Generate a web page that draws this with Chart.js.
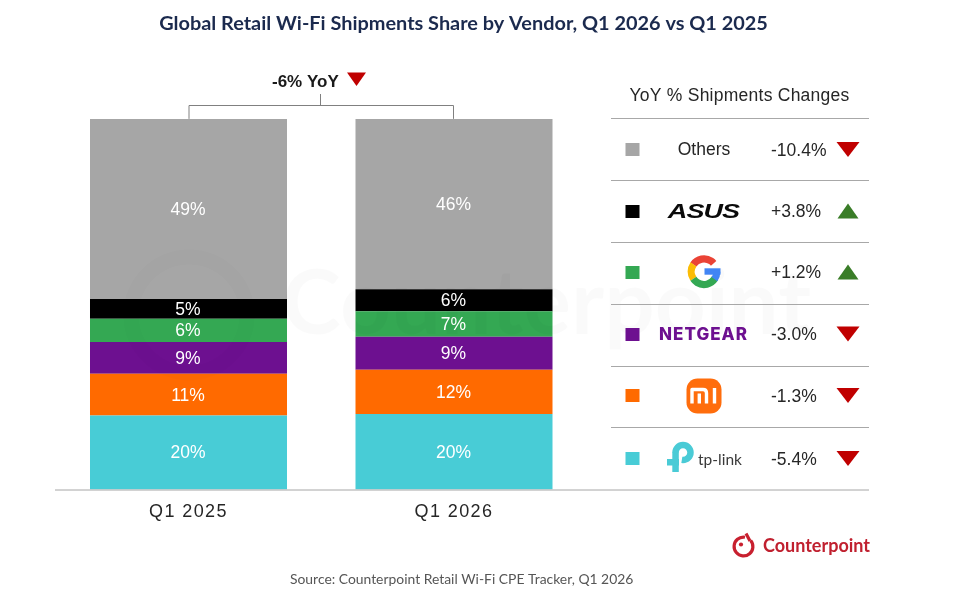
<!DOCTYPE html>
<html>
<head>
<meta charset="utf-8">
<style>html,body{margin:0;padding:0;background:#fff}canvas{display:block}</style>
<script src="https://cdn.jsdelivr.net/npm/chart.js@4"></script>
</head>
<body>
<canvas id="c" width="978" height="601"></canvas>
<script>
const categories = ["Q1 2025", "Q1 2026"];
const vendors = ["tp-link", "Mi", "NETGEAR", "Google", "ASUS", "Others"];
const tplinkValues = [20.0, 20.4];
const miValues = [11.2, 11.9];
const netgearValues = [8.6, 8.9];
const googleValues = [6.3, 6.9];
const asusValues = [5.3, 5.9];
const othersValues = [48.6, 46.0];
const tplinkLabels = ["20%", "20%"];
const miLabels = ["11%", "12%"];
const netgearLabels = ["9%", "9%"];
const googleLabels = ["6%", "7%"];
const asusLabels = ["5%", "6%"];
const othersLabels = ["49%", "46%"];
const vendorColors = ["#48ccd6", "#ff6a00", "#6d1090", "#34a853", "#000000", "#a6a6a6"];
const yoyChanges = ["-5.4%", "-1.3%", "-3.0%", "+1.2%", "+3.8%", "-10.4%"];
const titleText = "Global Retail Wi-Fi Shipments Share by Vendor, Q1 2026 vs Q1 2025";
const tableTitle = "YoY % Shipments Changes";
const totalChange = "-6% YoY";
const sourceText = "Source: Counterpoint Retail Wi-Fi CPE Tracker, Q1 2026";
const brandText = "Counterpoint";

const SANS = '"Liberation Sans", Arial, sans-serif';
const RED = "#c00000", GREEN = "#3a7d28", RULE = "#a8a8a8";

const valueSets = [tplinkValues, miValues, netgearValues, googleValues, asusValues, othersValues];
const labelSets = [tplinkLabels, miLabels, netgearLabels, googleLabels, asusLabels, othersLabels];
const datasets = vendors.map((v, i) => ({
  label: v, data: valueSets[i], backgroundColor: vendorColors[i], borderWidth: 0,
  barPercentage: 0.742, categoryPercentage: 1, shownLabels: labelSets[i]
}));

function text(ctx, s, x, y, font, color, align, spacing) {
  ctx.save();
  ctx.font = font; ctx.fillStyle = color;
  ctx.textAlign = align || "left"; ctx.textBaseline = "middle";
  if (spacing) ctx.letterSpacing = spacing;
  ctx.fillText(s, x, y);
  ctx.restore();
}
function tri(ctx, cx, top, bottom, w, color, up) {
  ctx.fillStyle = color;
  ctx.beginPath();
  if (up) { ctx.moveTo(cx, top); ctx.lineTo(cx + w/2, bottom); ctx.lineTo(cx - w/2, bottom); }
  else { ctx.moveTo(cx - w/2, top); ctx.lineTo(cx + w/2, top); ctx.lineTo(cx, bottom); }
  ctx.closePath(); ctx.fill();
}
function hline(ctx, x1, x2, y, color, w) {
  ctx.strokeStyle = color; ctx.lineWidth = w || 1;
  ctx.beginPath(); ctx.moveTo(x1, y); ctx.lineTo(x2, y); ctx.stroke();
}
function drawGoogle(ctx, cx, cy) {
  const r = 12.8, lw = 7.2;
  ctx.save(); ctx.lineWidth = lw; ctx.lineCap = "butt";
  const seg = (a, b, col) => { ctx.strokeStyle = col; ctx.beginPath(); ctx.arc(cx, cy, r, a, b); ctx.stroke(); };
  seg(-2.55, -0.72, "#ea4335");
  seg(2.55, 3.75, "#fbbc05");
  seg(0.55, 2.55, "#34a853");
  seg(0, 0.62, "#4285f4");
  ctx.fillStyle = "#4285f4";
  ctx.fillRect(cx + 0.5, cy - 3.4, 16, 6.4);
  ctx.restore();
}
function drawMi(ctx, cx, cy) {
  ctx.save();
  ctx.fillStyle = "#ff6d0c";
  ctx.beginPath(); ctx.roundRect(cx - 17.5, cy - 17.5, 35, 35, 11); ctx.fill();
  ctx.strokeStyle = "#fff"; ctx.lineWidth = 3.4; ctx.lineCap = "butt"; ctx.lineJoin = "round";
  const l = cx - 12, t = cy - 6.5, b = cy + 7.5;
  ctx.beginPath();
  ctx.moveTo(l, b); ctx.lineTo(l, t); ctx.lineTo(l + 11, t);
  ctx.quadraticCurveTo(l + 14.5, t, l + 14.5, t + 3.5); ctx.lineTo(l + 14.5, b);
  ctx.moveTo(l + 7.3, t + 4); ctx.lineTo(l + 7.3, b);
  ctx.moveTo(cx + 10.5, t - 1.5); ctx.lineTo(cx + 10.5, b);
  ctx.stroke();
  ctx.restore();
}
function drawTp(ctx, x, cy) {
  ctx.save();
  ctx.strokeStyle = "#4acbd6"; ctx.fillStyle = "#4acbd6"; ctx.lineWidth = 6.5; ctx.lineCap = "butt";
  ctx.beginPath(); ctx.arc(x + 16, cy - 5.5, 7.5, Math.PI, Math.PI * 2.55); ctx.stroke();
  ctx.fillRect(x + 5.3, cy - 6, 6.5, 20);
  ctx.fillRect(x, cy + 1, 12, 6.5);
  ctx.restore();
  text(ctx, "tp-link", x + 31, cy + 2, '15.5px "Lato", sans-serif', "#3a3a3a", "left");
}

const decor = {
  id: "decor",
  afterLayout(chart) {
    const t = chart.titleBlock;
    t.left = 0; t.right = 927; t.top = 12; t.bottom = 36;
    const x = chart.scales.x;
    if (!x._spaced) {
      const orig = x.drawLabels;
      x.drawLabels = function (a) {
        chart.ctx.letterSpacing = "1.4px";
        orig.call(this, a);
        chart.ctx.letterSpacing = "0px";
      };
      x._spaced = true;
    }
  },
  afterDatasetsDraw(chart) {
    const ctx = chart.ctx;
    // faint watermark across the plot
    ctx.save();
    ctx.globalAlpha = 0.012;
    ctx.strokeStyle = "#000"; ctx.lineWidth = 15;
    ctx.beginPath(); ctx.arc(189, 315, 58, 0, Math.PI * 2); ctx.stroke();
    ctx.globalAlpha = 0.02;
    ctx.font = 'bold 89px "Lato", sans-serif'; ctx.fillStyle = "#000";
    ctx.textBaseline = "alphabetic"; ctx.fillText(brandText, 282, 334);
    ctx.restore();

    // value labels, centred on each bar segment through the library's elements
    chart.data.datasets.forEach((ds, i) => {
      chart.getDatasetMeta(i).data.forEach((bar, j) => {
        const p = bar.getProps(["x", "y", "base"], true);
        text(ctx, ds.shownLabels[j], p.x - 0.5, (p.y + p.base) / 2 + 1.2, '17.5px ' + SANS, "#ffffff", "center");
      });
    });

    // baseline
    const base = chart.scales.y.getPixelForValue(0);
    hline(ctx, 55, 869, base + 0.5, "#a6a6a6", 1);

    // YoY bracket
    const xa = chart.scales.x.getPixelForValue(0), xb = chart.scales.x.getPixelForValue(1);
    const top = chart.chartArea.top;
    ctx.strokeStyle = "#808080"; ctx.lineWidth = 1;
    ctx.beginPath();
    ctx.moveTo(xa + 0.5, top); ctx.lineTo(xa + 0.5, 105.5); ctx.lineTo(xb - 0.5, 105.5); ctx.lineTo(xb - 0.5, top);
    ctx.moveTo(320.5, 105.5); ctx.lineTo(320.5, 94);
    ctx.stroke();
    text(ctx, totalChange, 272, 82, 'bold 17px ' + SANS, "#1a1a1a");
    tri(ctx, 356.5, 72.5, 86, 19, RED, false);

    // right-hand table
    text(ctx, tableTitle, 739.5, 96, '17.5px ' + SANS, "#262626", "center", "0.25px");
    const rows = [118.5, 180.5, 242.5, 304.5, 366.5, 427.5, 489.5];
    rows.slice(0, 6).forEach(y => hline(ctx, 611, 869, y, RULE, 1));
    const centers = [458.5, 395.5, 334, 272, 211, 149.5];
    const swatch = [452, 389, 328, 266, 205, 143];
    vendors.forEach((v, i) => {
      const cy = centers[i];
      ctx.fillStyle = chart.data.datasets[i].backgroundColor;
      ctx.fillRect(625.5, swatch[i], 14, 13);
      const up = yoyChanges[i][0] === "+";
      text(ctx, yoyChanges[i], 771, cy + 1.5, '17.5px ' + SANS, "#262626");
      tri(ctx, 848, cy - 7.5, cy + 7.5, up ? 21 : 23, up ? GREEN : RED, up);
    });
    text(ctx, "Others", 704, 150.5, '17.5px ' + SANS, "#262626", "center");
    ctx.save();
    ctx.translate(703.5, 212); ctx.scale(1.5, 1.12);
    text(ctx, "ASUS", 0, 0, 'italic bold 18px ' + SANS, "#0a0a0a", "center", "-0.6px");
    ctx.restore();
    drawGoogle(ctx, 704, 271.7);
    text(ctx, "NETGEAR", 703.5, 335, '800 17px "Inter", sans-serif', "#6d1090", "center", "1px");
    drawMi(ctx, 704, 396);
    drawTp(ctx, 667, 458);

    // brand and source
    ctx.save();
    ctx.strokeStyle = "#c8202f"; ctx.lineWidth = 3.2;
    ctx.beginPath(); ctx.arc(743.5, 546.5, 9.4, -0.7, Math.PI * 1.55); ctx.stroke();
    ctx.beginPath(); ctx.moveTo(746, 533.5); ctx.lineTo(750, 541); ctx.stroke();
    ctx.fillStyle = "#c8202f"; ctx.beginPath(); ctx.arc(741, 544.5, 2.1, 0, Math.PI*2); ctx.fill();
    ctx.restore();
    text(ctx, brandText, 763, 546.5, 'bold 18px "Lato", sans-serif', "#c0202f");
    text(ctx, sourceText, 290, 580, '13.9px "Lato", sans-serif', "#565656");
  }
};

new Chart(document.getElementById("c"), {
  type: "bar",
  data: { labels: categories, datasets },
  plugins: [decor],
  options: {
    responsive: false,
    animation: false,
    events: [],
    layout: { padding: { left: 55.75, right: 391.25, top: 95, bottom: 71.5 } },
    plugins: {
      legend: { display: false },
      tooltip: { enabled: false },
      title: {
        display: true, text: titleText, color: "#1b2a4e",
        font: { family: '"Lato", sans-serif', size: 19.9, weight: "bold", lineHeight: 1.2 },
        padding: 0
      }
    },
    scales: {
      x: {
        stacked: true,
        grid: { display: false, drawTicks: false },
        border: { display: false },
        afterFit(s) { s.height = 40; },
        ticks: { color: "#262626", font: { family: SANS, size: 18 }, padding: 12, maxRotation: 0 }
      },
      y: { stacked: true, display: false, min: 0, max: 100 }
    }
  }
});
</script>
</body>
</html>
